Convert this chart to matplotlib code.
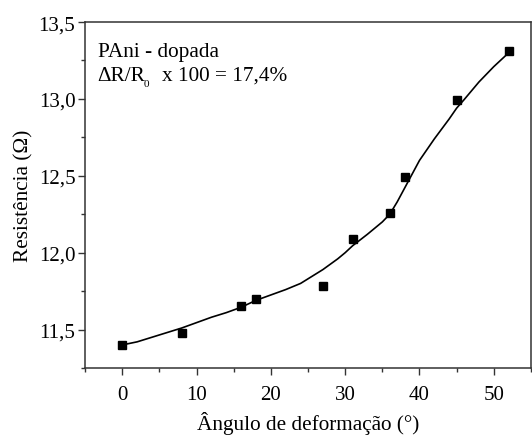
import matplotlib
matplotlib.use("Agg")
import matplotlib.pyplot as plt
from matplotlib.ticker import MultipleLocator, FuncFormatter

plt.rcParams['font.family'] = ['Liberation Serif', 'DejaVu Serif']

# pontos medidos
angulo = [0, 8, 16, 18, 27, 31, 36, 38, 45, 52]
resistencia = [11.40, 11.48, 11.65, 11.70, 11.78, 12.09, 12.26, 12.49, 12.99, 13.31]

# curva
curva_x = [0, 2, 4, 6, 8, 10, 12, 14, 16, 18, 20, 22, 24, 25, 27, 29, 30, 31, 33, 34, 35, 36,
           37, 38, 39, 40, 42, 44, 45, 46, 48, 50, 52]
curva_y = [11.40, 11.42, 11.45, 11.48, 11.51, 11.545, 11.58, 11.61, 11.645, 11.69, 11.725, 11.76,
           11.80, 11.83, 11.89, 11.96, 12.00, 12.045, 12.12, 12.16, 12.20, 12.25,
           12.33, 12.42, 12.51, 12.60, 12.74, 12.87, 12.94, 12.995, 13.11, 13.21, 13.30]

fig = plt.figure(figsize=(5.32, 4.39), dpi=100)
ax = fig.add_axes([0.16, 0.1595, 0.838, 0.788])

ax.plot(curva_x, curva_y, color="black", lw=1.2)
ax.plot(angulo, resistencia, "s", color="black", ms=5.4)

ax.set_xlim(-5, 55)
ax.set_ylim(11.25, 13.5)
ax.xaxis.set_major_locator(MultipleLocator(10))
ax.xaxis.set_minor_locator(MultipleLocator(5))
ax.yaxis.set_major_locator(MultipleLocator(0.5))
ax.yaxis.set_minor_locator(MultipleLocator(0.25))
ax.yaxis.set_major_formatter(FuncFormatter(lambda v, p: f"{v:.1f}".replace(".", ",")))

ax.tick_params(which="major", direction="out", length=5, width=1, labelsize=15, color="#333333")
ax.tick_params(which="minor", direction="out", length=3, width=1, color="#333333")
ax.tick_params(axis="x", pad=7)
ax.tick_params(axis="y", pad=2)
for s in ax.spines.values():
    s.set_linewidth(1.1)
    s.set_color("#333333")

ax.set_xlabel("Ângulo de deformação (°)", fontsize=15.3, labelpad=5)
ax.set_ylabel("Resistência (Ω)", fontsize=15.3, labelpad=4)

ax.text(0.028, 0.9026, "PAni - dopada", transform=ax.transAxes, fontsize=15.3, va="baseline")
ax.text(0.028, 0.833, "ΔR/R", transform=ax.transAxes, fontsize=15.3, va="baseline")
ax.text(0.132, 0.815, "0", transform=ax.transAxes, fontsize=8, va="baseline")
ax.text(0.1727, 0.833, "x 100 = 17,4%", transform=ax.transAxes, fontsize=15.3, va="baseline")

fig.savefig("out.png", dpi=100)
